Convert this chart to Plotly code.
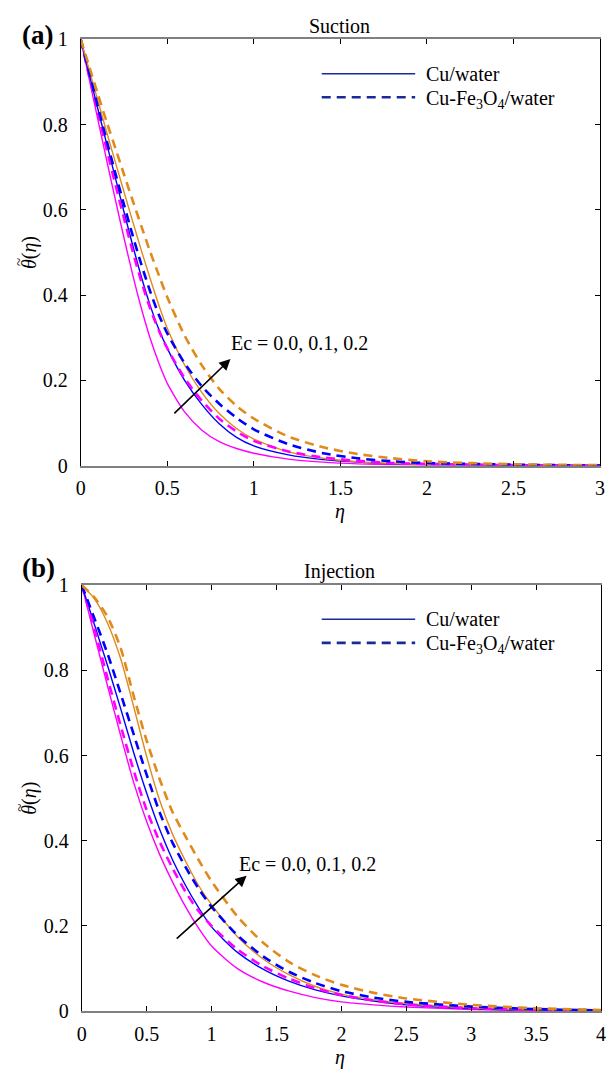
import plotly.graph_objects as go

# ---------------- data: (a) Suction ----------------
eta_suc = [0, 0.05, 0.1, 0.15, 0.2, 0.25, 0.3, 0.35, 0.4, 0.45, 0.5, 0.6, 0.7, 0.8, 0.9,
           1.0, 1.2, 1.4, 1.6, 1.8, 2.0, 2.5, 3.0]
suc_cu_ec00 = [1, 0.905, 0.81, 0.716, 0.624, 0.534, 0.448, 0.369, 0.3, 0.242, 0.193, 0.126,
               0.083, 0.056, 0.04, 0.029, 0.015, 0.008, 0.004, 0.002, 0.001, 0.0003, 0]
suc_cu_ec01 = [1, 0.917, 0.835, 0.755, 0.675, 0.595, 0.517, 0.443, 0.377, 0.321, 0.275, 0.2,
               0.143, 0.098, 0.066, 0.046, 0.025, 0.014, 0.008, 0.004, 0.002, 0.0005, 0]
suc_cu_ec02 = [1, 0.927, 0.855, 0.782, 0.712, 0.642, 0.573, 0.505, 0.44, 0.378, 0.322, 0.236,
               0.171, 0.122, 0.087, 0.062, 0.032, 0.017, 0.009, 0.005, 0.003, 0.001, 0]
suc_hy_ec00 = [1, 0.912, 0.826, 0.742, 0.66, 0.58, 0.503, 0.432, 0.37, 0.318, 0.275, 0.205,
               0.152, 0.11, 0.08, 0.058, 0.033, 0.019, 0.011, 0.006, 0.004, 0.001, 0]
suc_hy_ec01 = [1, 0.92, 0.84, 0.762, 0.686, 0.612, 0.54, 0.472, 0.41, 0.355, 0.31, 0.24,
               0.186, 0.145, 0.112, 0.085, 0.05, 0.029, 0.017, 0.01, 0.006, 0.002, 0]
suc_hy_ec02 = [1, 0.935, 0.87, 0.806, 0.745, 0.683, 0.622, 0.562, 0.503, 0.448, 0.395, 0.305,
               0.235, 0.18, 0.14, 0.11, 0.068, 0.043, 0.027, 0.017, 0.01, 0.003, 0.001]

# ---------------- data: (b) Injection ----------------
eta_inj = [0, 0.1, 0.2, 0.3, 0.4, 0.5, 0.6, 0.7, 0.8, 0.9, 1.0, 1.2, 1.4, 1.6, 1.8, 2.0,
           2.25, 2.5, 3.0, 3.5, 4.0]
inj_cu_ec00 = [1, 0.88, 0.762, 0.647, 0.537, 0.445, 0.368, 0.303, 0.245, 0.195, 0.153, 0.1,
               0.068, 0.047, 0.032, 0.022, 0.015, 0.01, 0.004, 0.0015, 0.0005]
inj_cu_ec01 = [1, 0.905, 0.81, 0.71, 0.607, 0.512, 0.427, 0.355, 0.295, 0.243, 0.198, 0.138,
               0.098, 0.07, 0.05, 0.036, 0.024, 0.015, 0.006, 0.002, 0.001]
inj_cu_ec02 = [1, 0.967, 0.91, 0.827, 0.715, 0.598, 0.495, 0.415, 0.352, 0.295, 0.25, 0.175,
               0.122, 0.085, 0.058, 0.04, 0.027, 0.018, 0.008, 0.003, 0.001]
inj_hy_ec00 = [1, 0.895, 0.78, 0.67, 0.565, 0.472, 0.398, 0.335, 0.28, 0.235, 0.2, 0.145,
               0.105, 0.076, 0.054, 0.038, 0.025, 0.016, 0.007, 0.003, 0.001]
inj_hy_ec01 = [1, 0.92, 0.838, 0.745, 0.65, 0.555, 0.467, 0.395, 0.338, 0.288, 0.245, 0.178,
               0.128, 0.092, 0.066, 0.047, 0.032, 0.022, 0.011, 0.005, 0.002]
inj_hy_ec02 = [1, 0.97, 0.925, 0.852, 0.74, 0.635, 0.545, 0.467, 0.41, 0.355, 0.305, 0.222,
               0.16, 0.115, 0.084, 0.062, 0.043, 0.03, 0.015, 0.007, 0.003]

x_ticks_suc = [0, 0.5, 1, 1.5, 2, 2.5, 3]
x_ticks_inj = [0, 0.5, 1, 1.5, 2, 2.5, 3, 3.5, 4]
y_ticks = [0, 0.2, 0.4, 0.6, 0.8, 1]

ec_colors = ["#ff00ff", "#0000ff", "#e08a1c"]
LEG = "#1a2a9a"
FONT = "Liberation Serif"
FS = 20
W, H = 610, 1081

fig = go.Figure()

def add_set(eta, cu, hy, xa, ya):
    for vals, col in zip(cu, ec_colors):
        fig.add_trace(go.Scatter(x=eta, y=vals, mode="lines", xaxis=xa, yaxis=ya,
                                 line=dict(color=col, width=1.4, shape="spline", smoothing=0.7),
                                 showlegend=False, hoverinfo="skip"))
    for vals, col in zip(hy, ec_colors):
        fig.add_trace(go.Scatter(x=eta, y=vals, mode="lines", xaxis=xa, yaxis=ya,
                                 line=dict(color=col, width=2.6, dash="9px,6px",
                                           shape="spline", smoothing=0.7),
                                 showlegend=False, hoverinfo="skip"))

add_set(eta_suc, [suc_cu_ec00, suc_cu_ec01, suc_cu_ec02],
        [suc_hy_ec00, suc_hy_ec01, suc_hy_ec02], "x", "y")
add_set(eta_inj, [inj_cu_ec00, inj_cu_ec01, inj_cu_ec02],
        [inj_hy_ec00, inj_hy_ec01, inj_hy_ec02], "x2", "y2")

def px(x):
    return x / W

def py(y):
    return 1 - y / H

axis_common = dict(showgrid=False, zeroline=False, showline=True, mirror="allticks",
                   ticks="inside", ticklen=5, tickcolor="black",
                   tickfont=dict(family=FONT, size=FS, color="black"))

fig.update_layout(
    width=W, height=H, margin=dict(l=0, r=0, t=0, b=0), autosize=False,
    paper_bgcolor="white", plot_bgcolor="white", showlegend=False,
    xaxis=dict(domain=[px(77), px(605)], range=[0, 3], tickvals=x_ticks_suc,
               ticktext=[f"{v:g}" for v in x_ticks_suc], anchor="y", ticklabelstandoff=4,
               linecolor="#808080", linewidth=1.5, **axis_common),
    yaxis=dict(domain=[py(464), py(29)], range=[0, 1], tickvals=y_ticks,
               ticktext=[f"{v:g}" for v in y_ticks], anchor="x", ticklabelstandoff=8,
               linecolor="black", linewidth=1, **axis_common),
    xaxis2=dict(domain=[px(78), px(606)], range=[0, 4], tickvals=x_ticks_inj,
                ticktext=[f"{v:g}" for v in x_ticks_inj], anchor="y2", ticklabelstandoff=4,
                linecolor="#808080", linewidth=1.5, **axis_common),
    yaxis2=dict(domain=[py(1021), py(586)], range=[0, 1], tickvals=y_ticks,
                ticktext=[f"{v:g}" for v in y_ticks], anchor="x2", ticklabelstandoff=8,
                linecolor="black", linewidth=1, **axis_common),
)

ann = []
shapes = []
theta_lbl = "<i>θ</i>(<i>η</i>)"
for tag, tag_y, title, top, bottom, xr, yr, arrow, txt, leg_y in [
    ("(a)", 25, "Suction", 29, 464, "x", "y", (0.865, 0.25, 0.532, 0.119), (0.858, 0.287), (64, 88)),
    ("(b)", 569, "Injection", 586, 1021, "x2", "y2", (1.27, 0.318, 0.72, 0.167), (1.195, 0.345), (621, 645)),
]:
    ann.append(dict(text=f"<b>{tag}</b>", x=px(15), y=py(tag_y), xref="paper", yref="paper",
                    xanchor="left", yanchor="middle", showarrow=False,
                    font=dict(family=FONT, size=27, color="black")))
    ann.append(dict(text=title, x=px(340), y=py(top - 14), xref="paper", yref="paper",
                    xanchor="center", yanchor="middle", showarrow=False,
                    font=dict(family=FONT, size=FS, color="black")))
    yc = (top + bottom) / 2
    ann.append(dict(text=theta_lbl, x=px(25), y=py(yc), xref="paper", yref="paper",
                    xanchor="center", yanchor="middle", showarrow=False, textangle=-90,
                    font=dict(family=FONT, size=FS, color="black")))
    # tilde accent over theta (rotated label -> to the left of the theta glyph)
    ann.append(dict(text="~", x=px(15), y=py(yc + 10), xref="paper", yref="paper",
                    xanchor="center", yanchor="middle", showarrow=False, textangle=-90,
                    font=dict(family=FONT, size=15, color="black")))
    ann.append(dict(text="<i>η</i>", x=px(341), y=py(bottom + 47), xref="paper", yref="paper",
                    xanchor="center", yanchor="middle", showarrow=False,
                    font=dict(family=FONT, size=FS, color="black")))
    hx, hy, tx, ty = arrow
    ann.append(dict(text="", x=hx, y=hy, ax=tx, ay=ty, xref=xr, yref=yr, axref=xr, ayref=yr,
                    showarrow=True, arrowhead=2, arrowsize=1.4, arrowwidth=1.6, arrowcolor="black"))
    ann.append(dict(text="Ec = 0.0, 0.1, 0.2", x=txt[0], y=txt[1], xref=xr, yref=yr,
                    xanchor="left", yanchor="middle", showarrow=False,
                    font=dict(family=FONT, size=FS, color="black")))
    # legend
    shapes.append(dict(type="line", xref="paper", yref="paper", x0=px(322), x1=px(417),
                       y0=py(leg_y[0]), y1=py(leg_y[0]), line=dict(color=LEG, width=1.5)))
    shapes.append(dict(type="line", xref="paper", yref="paper", x0=px(322), x1=px(417),
                       y0=py(leg_y[1]), y1=py(leg_y[1]), line=dict(color=LEG, width=2.6, dash="9px,6px")))
    ann.append(dict(text="Cu/water", x=px(426), y=py(leg_y[0]), xref="paper", yref="paper",
                    xanchor="left", yanchor="middle", showarrow=False,
                    font=dict(family=FONT, size=FS, color="black")))
    ann.append(dict(text="Cu-Fe<sub>3</sub>O<sub>4</sub>/water", x=px(426), y=py(leg_y[1] + 2),
                    xref="paper", yref="paper", xanchor="left", yanchor="middle", showarrow=False,
                    font=dict(family=FONT, size=FS, color="black")))

fig.update_layout(annotations=ann, shapes=shapes)
fig.write_html("out.html", config={"displayModeBar": False},
               post_script="document.body.style.margin='0';document.body.style.padding='0';"
                           "document.documentElement.style.overflow='hidden';")
